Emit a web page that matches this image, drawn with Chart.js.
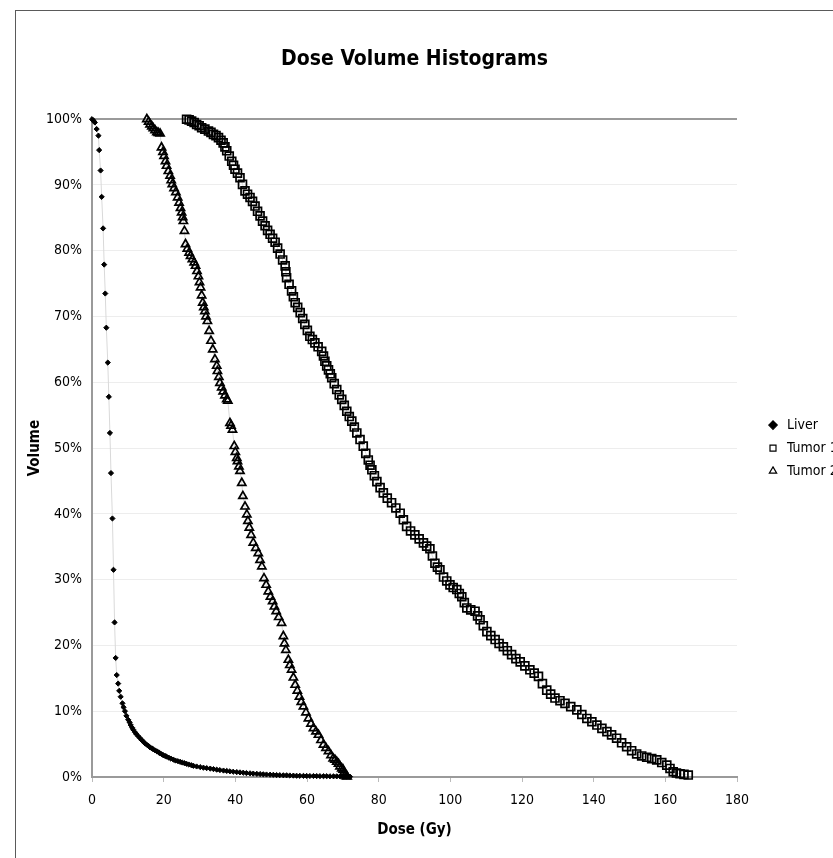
<!DOCTYPE html>
<html>
<head>
<meta charset="utf-8">
<title>Dose Volume Histograms</title>
<script src="https://cdn.jsdelivr.net/npm/chart.js@4.4.1/dist/chart.umd.min.js"></script>
<style>
  html, body { margin: 0; padding: 0; background: #fff; overflow: hidden; }
  canvas { position: absolute; left: 0; top: 0; }
  #frame { position: absolute; left: 15px; top: 10px; width: 2000px; height: 2000px;
           border-left: 1px solid #5a5a5a; border-top: 1px solid #5a5a5a; pointer-events: none; }
</style>
</head>
<body>
<canvas id="dvh" width="840" height="858"></canvas>
<div id="frame"></div>
<script>
// values (dose in Gy, volume in %)
const liverDose = [0, 0.4, 0.8, 1.3, 1.8, 2.0, 2.4, 2.7, 3.1, 3.4, 3.7, 4.0, 4.4, 4.7, 5.0, 5.3, 5.7, 6.0, 6.3, 6.6,
  6.9, 7.3, 7.6, 8.0, 8.5, 8.8, 9.2, 9.6, 10.1, 10.5, 10.8, 11.2, 11.5, 12.0, 12.4, 12.9, 13.4, 13.9, 14.3, 14.8,
  15.3, 15.8, 16.2, 16.7, 17.1, 17.6, 18.1, 18.6, 19.0, 19.5, 19.9, 20.4, 20.8, 21.4, 22.0, 22.7, 23.3, 24.0, 24.6, 25.2,
  25.8, 26.4, 27.0, 27.7, 28.3, 29.2, 30.2, 31.1, 32.0, 33.0, 33.9, 34.8, 35.7, 36.7, 37.6, 38.5, 39.4, 40.4, 41.3, 42.2,
  43.1, 44.1, 45.0, 46.0, 46.9, 47.8, 48.7, 49.7, 50.6, 51.5, 52.4, 53.4, 54.3, 55.2, 56.2, 57.1, 58.0, 59.0, 59.9, 60.8,
  61.8, 62.7, 63.6, 64.6, 65.5, 66.4, 67.4, 68.3, 69.2, 70.1, 71.0, 72.0];
const liverVolume = [100, 99.8, 99.5, 98.5, 97.5, 95.3, 92.2, 88.2, 83.4, 77.9, 73.5, 68.3, 63.0, 57.8, 52.3, 46.2, 39.3, 31.5, 23.5, 18.1,
  15.5, 14.2, 13.1, 12.2, 11.2, 10.6, 10.0, 9.3, 8.7, 8.3, 7.9, 7.5, 7.2, 6.8, 6.5, 6.2, 5.9, 5.6, 5.4, 5.1,
  4.9, 4.7, 4.5, 4.35, 4.2, 4.05, 3.9, 3.75, 3.6, 3.45, 3.3, 3.2, 3.1, 2.95, 2.8, 2.65, 2.5, 2.4, 2.3, 2.2,
  2.1, 2.0, 1.9, 1.8, 1.7, 1.6, 1.5, 1.42, 1.35, 1.28, 1.2, 1.12, 1.05, 0.98, 0.92, 0.86, 0.8, 0.75, 0.7, 0.65,
  0.6, 0.56, 0.52, 0.48, 0.45, 0.41, 0.38, 0.35, 0.33, 0.3, 0.28, 0.26, 0.25, 0.23, 0.21, 0.19, 0.18, 0.17, 0.16, 0.15,
  0.15, 0.14, 0.13, 0.12, 0.12, 0.11, 0.1, 0.1, 0.1, 0.09, 0.08, 0.05];

const tumor1Dose = [26.4, 27.1, 27.8, 28.5, 29.2, 29.9, 30.6, 31.5, 32.5, 33.2, 33.9, 34.6, 35.3, 36.0, 36.6, 37.1, 37.6, 38.3, 39.0, 39.5,
  39.9, 40.6, 41.3, 42.0, 42.7, 43.4, 44.1, 44.8, 45.5, 46.2, 46.9, 47.6, 48.3, 49.0, 49.7, 50.4, 51.1, 51.8, 52.5, 53.2,
  53.9, 54.1, 54.3, 55.0, 55.7, 56.2, 56.7, 57.4, 58.1, 58.8, 59.4, 60.1, 60.8, 61.5, 62.2, 63.1, 64.1, 64.6, 65.0, 65.5,
  66.0, 66.5, 66.9, 67.6, 68.3, 69.0, 69.7, 70.4, 71.1, 71.8, 72.5, 73.2, 73.9, 74.8, 75.7, 76.4, 77.1, 77.6, 78.1, 78.8,
  79.5, 80.4, 81.3, 82.4, 83.6, 84.8, 86.0, 86.9, 87.8, 88.9, 90.1, 91.3, 92.5, 93.4, 94.3, 95.0, 95.7, 96.4, 97.1, 98.1,
  99.0, 99.9, 100.8, 101.8, 102.5, 103.2, 103.9, 104.6, 105.7, 106.9, 107.6, 108.3, 109.2, 110.2, 111.3, 112.5, 113.6, 114.8, 115.9, 117.1,
  118.3, 119.5, 120.8, 122.2, 123.4, 124.6, 125.7, 126.9, 128.0, 129.2, 130.6, 132.0, 133.6, 135.3, 136.7, 138.1, 139.5, 140.9, 142.3, 143.7,
  145.0, 146.4, 147.8, 149.2, 150.6, 152.0, 153.4, 154.8, 156.2, 157.6, 159.0, 160.4, 161.3, 162.2, 163.1, 164.1, 165.2, 166.4];
const tumor1Volume = [100, 99.9, 99.7, 99.5, 99.2, 99.0, 98.7, 98.5, 98.2, 98.0, 97.7, 97.5, 97.2, 96.8, 96.4, 95.8, 95.2, 94.4, 93.6, 93.0,
  92.4, 91.8, 91.1, 90.1, 89.1, 88.6, 88.1, 87.5, 86.8, 86.0, 85.3, 84.5, 83.8, 83.1, 82.5, 81.9, 81.3, 80.4, 79.5, 78.6,
  77.7, 76.8, 75.9, 74.9, 73.9, 73.0, 72.1, 71.4, 70.6, 69.7, 68.8, 67.9, 67.0, 66.5, 66.0, 65.4, 64.7, 64.0, 63.2, 62.5,
  61.9, 61.3, 60.7, 59.8, 58.9, 58.1, 57.4, 56.5, 55.6, 54.8, 54.1, 53.2, 52.3, 51.3, 50.3, 49.2, 48.2, 47.4, 46.7, 45.8,
  44.9, 44.0, 43.2, 42.4, 41.7, 40.9, 40.1, 39.1, 38.1, 37.4, 36.8, 36.2, 35.6, 35.1, 34.7, 33.6, 32.5, 31.9, 31.5, 30.4,
  29.8, 29.2, 28.8, 28.5, 27.9, 27.4, 26.5, 25.7, 25.4, 25.2, 24.5, 23.9, 23.0, 22.1, 21.5, 20.9, 20.3, 19.8, 19.2, 18.6,
  18.0, 17.5, 16.9, 16.3, 15.8, 15.3, 14.2, 13.2, 12.6, 12.0, 11.6, 11.2, 10.7, 10.2, 9.5, 8.9, 8.4, 7.9, 7.4, 6.9,
  6.4, 5.9, 5.2, 4.6, 4.0, 3.5, 3.2, 3.0, 2.8, 2.6, 2.2, 1.8, 1.3, 0.8, 0.6, 0.5, 0.4, 0.3];

const tumor2Dose = [15.3, 15.8, 16.2, 16.7, 17.1, 17.6, 18.1, 18.5, 19.0, 19.4, 19.8, 20.1, 20.5, 20.8, 21.3, 21.8, 22.1, 22.4, 22.9, 23.4,
  23.9, 24.3, 24.7, 25.0, 25.3, 25.5, 25.8, 26.1, 26.6, 27.1, 27.5, 28.0, 28.5, 28.9, 29.3, 29.7, 30.0, 30.3, 30.6, 30.9,
  31.2, 31.5, 31.8, 32.2, 32.7, 33.2, 33.7, 34.3, 34.8, 35.0, 35.4, 35.7, 36.2, 36.6, 37.1, 37.6, 37.9, 38.5, 38.8, 39.2,
  39.7, 40.0, 40.4, 40.6, 41.0, 41.3, 41.8, 42.1, 42.7, 43.2, 43.5, 43.9, 44.4, 45.0, 45.7, 46.4, 46.9, 47.4, 48.0, 48.6,
  49.2, 49.8, 50.4, 50.9, 51.4, 52.1, 52.9, 53.4, 53.7, 54.1, 54.8, 55.2, 55.7, 56.2, 56.7, 57.3, 57.9, 58.4, 59.0, 59.7,
  60.4, 61.1, 61.8, 62.5, 63.2, 63.9, 64.6, 65.3, 66.0, 66.7, 67.3, 67.8, 68.3, 68.8, 69.2, 69.7, 70.1, 70.4, 70.6, 70.9, 71.2];
const tumor2Volume = [100, 99.6, 99.2, 98.9, 98.6, 98.3, 98.0, 97.9, 97.8, 95.7, 95.0, 94.4, 93.6, 92.9, 92.1, 91.4, 90.7, 90.1, 89.5, 88.9,
  88.1, 87.3, 86.5, 85.8, 85.1, 84.5, 83.0, 81.0, 80.3, 79.7, 79.2, 78.7, 78.2, 77.7, 76.9, 76.1, 75.2, 74.4, 73.2, 72.1,
  71.4, 70.8, 70.0, 69.3, 67.8, 66.3, 65.0, 63.5, 62.5, 61.7, 60.8, 59.9, 59.2, 58.6, 58.0, 57.4, 57.2, 53.8, 53.4, 52.8,
  50.3, 49.4, 48.5, 48.0, 47.2, 46.5, 44.7, 42.7, 41.1, 39.9, 38.9, 37.9, 36.8, 35.6, 34.8, 34.0, 33.0, 32.0, 30.2, 29.2,
  28.2, 27.4, 26.7, 25.9, 25.2, 24.3, 23.4, 21.4, 20.3, 19.3, 17.8, 17.0, 16.3, 15.1, 14.0, 13.1, 12.2, 11.4, 10.7, 9.8,
  8.9, 8.1, 7.4, 6.9, 6.4, 5.6, 4.9, 4.4, 3.9, 3.3, 2.8, 2.6, 2.3, 2.0, 1.6, 1.3, 1.1, 0.7, 0.3, 0.1, 0.05];

const doseTicks = [0, 20, 40, 60, 80, 100, 120, 140, 160, 180];
const volumeTicks = [0, 10, 20, 30, 40, 50, 60, 70, 80, 90, 100];

function toPoints(dose, vol) {
  return dose.map((d, i) => ({x: d, y: vol[i]}));
}

Chart.defaults.font.family = "'DejaVu Sans Condensed', 'Liberation Sans Narrow', 'DejaVu Sans', sans-serif";
Chart.defaults.color = '#000';

var ctx = document.getElementById('dvh');

var dvhChart = new Chart(ctx, {
  type: 'scatter',
  data: {
    datasets: [{
      label: 'Liver',
      data: toPoints(liverDose, liverVolume),
      showLine: true,
      borderColor: '#d9d9d9',
      borderWidth: 1,
      pointStyle: 'rectRot',
      pointRadius: 2.6,
      pointBackgroundColor: '#000',
      pointBorderColor: '#000',
      pointBorderWidth: 1,
      clip: false
    }, {
      label: 'Tumor 1',
      data: toPoints(tumor1Dose, tumor1Volume),
      showLine: true,
      borderColor: '#d9d9d9',
      borderWidth: 1,
      pointStyle: 'rect',
      pointRadius: 5.6,
      pointBackgroundColor: 'rgba(255,255,255,0)',
      pointBorderColor: '#000',
      pointBorderWidth: 1.7,
      clip: false
    }, {
      label: 'Tumor 2',
      data: toPoints(tumor2Dose, tumor2Volume),
      showLine: true,
      borderColor: '#d9d9d9',
      borderWidth: 1,
      pointStyle: 'triangle',
      pointRadius: 4.7,
      pointBackgroundColor: 'rgba(255,255,255,0)',
      pointBorderColor: '#000',
      pointBorderWidth: 1.7,
      clip: false
    }]
  },
  options: {
    responsive: false,
    animation: false,
    devicePixelRatio: 1,
    layout: { padding: { top: 0, left: 0, right: 7, bottom: 11 } },
    scales: {
      x: {
        type: 'linear',
        min: 0,
        max: 180,
        afterBuildTicks: axis => { axis.ticks = doseTicks.map(v => ({value: v})); },
        afterFit: axis => { axis.height = 70; },
        grid: { drawOnChartArea: false, drawTicks: true, tickLength: 5, color: '#bbbbbb' },
        border: { color: '#9a9a9a', width: 2 },
        ticks: { font: { size: 14 }, padding: 10, maxRotation: 0 },
        title: { display: true, text: 'Dose (Gy)', font: { size: 15, weight: 'bold' }, padding: { top: 0, bottom: 8 } }
      },
      y: {
        type: 'linear',
        min: 0,
        max: 100,
        afterBuildTicks: axis => { axis.ticks = volumeTicks.map(v => ({value: v})); },
        afterFit: axis => { axis.width = 92; },
        grid: {
          drawTicks: false,
          color: c => c.tick.value === 100 ? '#9a9a9a' : '#ededed',
          lineWidth: c => c.tick.value === 100 ? 2 : 1
        },
        border: { color: '#9a9a9a', width: 2 },
        ticks: { font: { size: 14 }, padding: 10, callback: v => v + '%' },
        title: { display: true, text: 'Volume', font: { size: 15, weight: 'bold' }, padding: { top: 26, bottom: 0 } }
      },
      gap: {
        // empty space between plot and legend
        type: 'linear',
        position: 'right',
        display: true,
        grid: { display: false },
        ticks: { display: false },
        border: { display: false },
        afterFit: axis => { axis.width = 20; }
      }
    },
    plugins: {
      title: {
        display: true,
        text: 'Dose Volume Histograms',
        fullSize: false,
        font: { size: 21, weight: 'bold' },
        padding: { top: 47, bottom: 47 }
      },
      legend: {
        position: 'right',
        fullSize: false,
        maxWidth: 76,
        labels: {
          usePointStyle: true,
          boxWidth: 14,
          boxHeight: 6,
          padding: 9,
          font: { size: 14 },
          generateLabels: chart => chart.data.datasets.map((ds, i) => ({
            text: ds.label,
            pointStyle: ds.pointStyle,
            fillStyle: ds.pointBackgroundColor,
            strokeStyle: ds.pointBorderColor,
            lineWidth: 1.2,
            datasetIndex: i,
            hidden: false
          }))
        }
      },
      tooltip: { enabled: false }
    }
  }
});
</script>
</body>
</html>
